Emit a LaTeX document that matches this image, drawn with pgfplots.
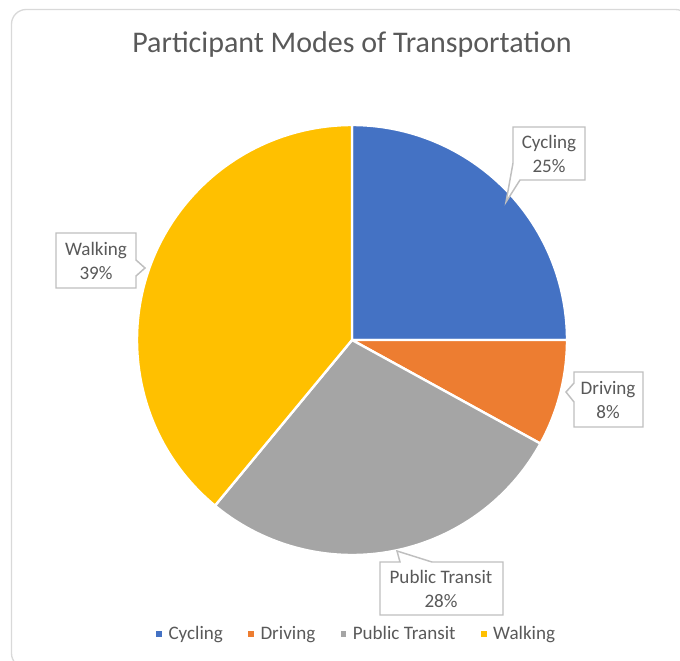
\documentclass[border=0pt]{standalone}
\usepackage{fontspec}
\setmainfont{Carlito}
\usepackage{pgfplots}
\pgfplotsset{compat=1.18}
\usepackage{pgfplotstable}
\definecolor{ccyc}{HTML}{4472C4}
\definecolor{cdri}{HTML}{ED7D31}
\definecolor{cpub}{HTML}{A5A5A5}
\definecolor{cwal}{HTML}{FFC000}
\definecolor{ctxt}{HTML}{595959}
\definecolor{cbox}{HTML}{BFBFBF}
\definecolor{cframe}{HTML}{D9D9D9}

\pgfplotstableread[col sep=comma]{
mode,pct
Cycling,25
Driving,8
Public Transit,28
Walking,39
}\modes

% slice angles, clockwise from 12 o'clock
\pgfplotstablegetelem{0}{pct}\of\modes \pgfmathsetmacro\aA{90-3.6*\pgfplotsretval}
\pgfplotstablegetelem{1}{pct}\of\modes \pgfmathsetmacro\aB{\aA-3.6*\pgfplotsretval}
\pgfplotstablegetelem{2}{pct}\of\modes \pgfmathsetmacro\aC{\aB-3.6*\pgfplotsretval}
\pgfplotstablegetelem{3}{pct}\of\modes \pgfmathsetmacro\aD{\aC-3.6*\pgfplotsretval}
\def\R{161.25pt}

\begin{document}
\begin{tikzpicture}
\begin{axis}[
    x=0.75pt, y=0.75pt, y dir=reverse,
    xmin=0, xmax=680, ymin=0, ymax=660,
    hide axis, clip=false,
    legend columns=4,
    legend style={at={(axis cs:357,634)}, anchor=center, draw=none, fill=none,
        font=\fontsize{14.3}{17}\selectfont, text=ctxt,
        /tikz/every odd column/.append style={column sep=3pt},
        /tikz/every even column/.append style={column sep=17pt}},
    legend image code/.code={\fill[draw=none,#1] (0pt,-2.1pt) rectangle (4.2pt,2.1pt);},
]
\coordinate (TL) at (axis cs:0,0);
\coordinate (BR) at (axis cs:680,660);
\begin{scope}
\clip (axis cs:0,0) rectangle (axis cs:680,660);
\draw[cframe, line width=1pt, rounded corners=11pt] (axis cs:11.5,9.5) rectangle (axis cs:690,668);
\end{scope}

\node[text=ctxt, font=\fontsize{22.5}{27}\selectfont] at (axis cs:352,45) {Participant Modes of Transportation};

\coordinate (O) at (axis cs:352,340);
\begin{scope}[draw=white, line width=1.8pt, line join=round]
\filldraw[fill=ccyc] (O) -- ++(90:\R) arc[start angle=90, end angle=\aA, radius=\R] -- cycle;
\filldraw[fill=cdri] (O) -- ++(\aA:\R) arc[start angle=\aA, end angle=\aB, radius=\R] -- cycle;
\filldraw[fill=cpub] (O) -- ++(\aB:\R) arc[start angle=\aB, end angle=\aC, radius=\R] -- cycle;
\filldraw[fill=cwal] (O) -- ++(\aC:\R) arc[start angle=\aC, end angle=\aD, radius=\R] -- cycle;
\end{scope}

% callouts
\begin{scope}[draw=cbox, fill=white, line width=1.1pt]
\filldraw (axis cs:513,127) -- (axis cs:585,127) -- (axis cs:585,180) -- (axis cs:520,180)
   -- (axis cs:506,202) -- (axis cs:513,163) -- cycle;
\filldraw (axis cs:56,233) -- (axis cs:136,233) -- (axis cs:136,260) -- (axis cs:145,268)
   -- (axis cs:136,276) -- (axis cs:136,288) -- (axis cs:56,288) -- cycle;
\filldraw (axis cs:574,372) -- (axis cs:643,372) -- (axis cs:643,427) -- (axis cs:574,427)
   -- (axis cs:574,402) -- (axis cs:566,392) -- (axis cs:574,383) -- cycle;
\filldraw (axis cs:380,562) -- (axis cs:400,562) -- (axis cs:397,551) -- (axis cs:432,562)
   -- (axis cs:503,562) -- (axis cs:503,615) -- (axis cs:380,615) -- cycle;
\end{scope}
\begin{scope}[every node/.style={text=ctxt, align=center, font=\fontsize{14.3}{18}\selectfont}]
\node at (axis cs:549,154) {Cycling\\25\%};
\node at (axis cs:96,261) {Walking\\39\%};
\node at (axis cs:608,400) {Driving\\8\%};
\node at (axis cs:441,589) {Public Transit\\28\%};
\end{scope}

\addlegendimage{fill=ccyc}\addlegendentry{Cycling}
\addlegendimage{fill=cdri}\addlegendentry{Driving}
\addlegendimage{fill=cpub}\addlegendentry{Public Transit}
\addlegendimage{fill=cwal}\addlegendentry{Walking}
\end{axis}
\pgfresetboundingbox
\path (TL) rectangle (BR);
\end{tikzpicture}
\end{document}
